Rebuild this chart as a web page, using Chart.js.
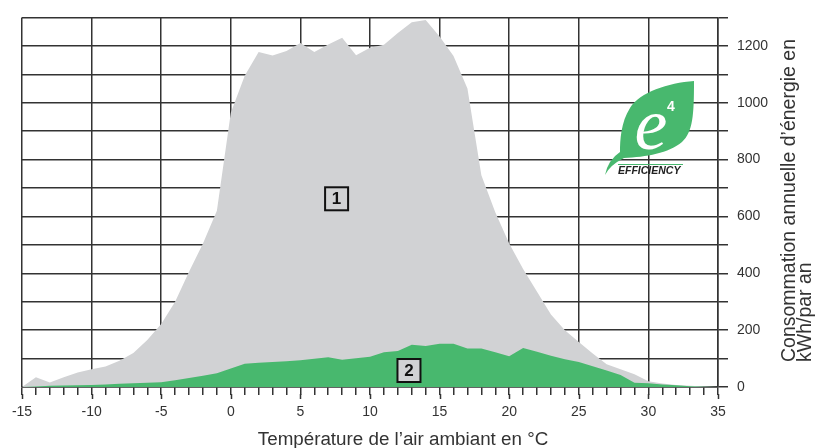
<!DOCTYPE html>
<html><head><meta charset="utf-8">
<script src="https://cdn.jsdelivr.net/npm/chart.js@4"></script>
<style>html,body{margin:0;padding:0;background:#fff}#wrap{width:816px;height:448px}</style>
</head><body><div id="wrap"><canvas id="c" width="816" height="448"></canvas></div>
<script>
const temperatures = [-15,-14,-13,-12,-11,-10,-9,-8,-7,-6,-5,-4,-3,-2,-1,0,1,2,3,4,5,6,7,8,9,10,11,12,13,14,15,16,17,18,19,20,21,22,23,24,25,26,27,28,29,30,31,32,33,34,35];
const consumption1 = [0,34,16,34,51,62,72,92,120,165,222,300,405,505,620,965,1095,1178,1166,1182,1210,1178,1205,1228,1167,1193,1204,1245,1283,1291,1233,1164,1050,745,615,505,415,335,255,200,158,118,80,62,45,20,12,7,4,2,0];
const consumption2 = [0,2,4,5,6,7,9,11,13,15,17,24,32,40,48,65,82,85,88,91,94,99,105,96,101,106,122,127,149,144,152,152,135,135,122,108,137,124,110,98,88,73,58,42,15,13,9,6,3,1,0];
const seriesLabels = ['1','2'];
const labelAnchors = [[7.6, 662], [12.8, 58]]; // data coords of the numbered boxes
const xTitle = 'Température de l\u2019air ambiant en °C';
const yTitleLines = ['Consommation annuelle d\u2019énergie en', 'kWh/par an'];
const logoWord = 'EFFICIENCY';

const FONT = '"Liberation Sans", Arial, Helvetica, sans-serif';
const GRID = '#333';
const GRAY = '#d1d2d4';
const GREEN = '#48b86e';

const overlay = {
  id: 'overlay',
  afterDraw(chart) {
    const {ctx, scales: {x, y}} = chart;
    ctx.save();
    // longer major ticks
    ctx.strokeStyle = GRID; ctx.lineWidth = 1.5;
    const yb = y.getPixelForValue(0);
    temperatures.filter(t => t % 5 === 0).forEach(t => {
      const px = Math.round(x.getPixelForValue(t)) + 0.5;
      ctx.beginPath(); ctx.moveTo(px, yb + 7); ctx.lineTo(px, yb + 12); ctx.stroke();
    });
    // numbered boxes
    labelAnchors.forEach((a, i) => {
      const cx = x.getPixelForValue(a[0]), cy = y.getPixelForValue(a[1]);
      ctx.fillStyle = GRAY; ctx.fillRect(cx - 11.5, cy - 11.5, 23, 23);
      ctx.strokeStyle = '#111'; ctx.lineWidth = 2; ctx.strokeRect(cx - 11.5, cy - 11.5, 23, 23);
      ctx.fillStyle = '#111'; ctx.font = 'bold 17px ' + FONT;
      ctx.textAlign = 'center'; ctx.textBaseline = 'middle';
      ctx.fillText(seriesLabels[i], cx, cy + 1);
    });
    // x title
    ctx.fillStyle = '#333'; ctx.font = '18.8px ' + FONT;
    ctx.textAlign = 'center'; ctx.textBaseline = 'alphabetic';
    ctx.fillText(xTitle, 403, 445);
    // y title (rotated)
    ctx.save();
    ctx.rotate(-Math.PI / 2);
    ctx.textAlign = 'left';
    ctx.font = '19.5px ' + FONT;
    ctx.fillText(yTitleLines[0], -362, 795);
    ctx.fillText(yTitleLines[1], -362, 811);
    ctx.restore();
    // logo leaf
    ctx.fillStyle = GREEN;
    ctx.beginPath();
    ctx.moveTo(694, 81);
    ctx.bezierCurveTo(668, 83, 640, 92, 630, 108);
    ctx.bezierCurveTo(621, 122, 620, 140, 620, 152);
    ctx.quadraticCurveTo(608, 160, 605, 175);
    ctx.quadraticCurveTo(610, 165, 624, 158);
    ctx.bezierCurveTo(646, 157, 669, 153, 682, 142);
    ctx.bezierCurveTo(693, 132, 694, 115, 694, 81);
    ctx.closePath(); ctx.fill();
    ctx.fillStyle = '#fff';
    ctx.font = 'italic 74px "Liberation Serif", serif';
    ctx.textAlign = 'center'; ctx.textBaseline = 'alphabetic';
    ctx.fillText('e', 651, 149);
    ctx.font = 'bold 14px ' + FONT;
    ctx.fillText('4', 671, 111);
    ctx.strokeStyle = GREEN; ctx.lineWidth = 1;
    ctx.beginPath(); ctx.moveTo(618, 164.5); ctx.lineTo(683, 164.5); ctx.stroke();
    ctx.fillStyle = '#222'; ctx.font = 'italic bold 10.5px ' + FONT;
    ctx.textAlign = 'left';
    ctx.fillText(logoWord, 618, 174, 64);
    ctx.restore();
  }
};

new Chart(document.getElementById('c'), {
  type: 'line',
  data: {
    datasets: [
      { label: seriesLabels[1], data: temperatures.map((t, i) => ({x: t, y: consumption2[i]})),
        backgroundColor: GREEN, borderWidth: 0, fill: 'origin', pointRadius: 0, tension: 0, order: 0 },
      { label: seriesLabels[0], data: temperatures.map((t, i) => ({x: t, y: consumption1[i]})),
        backgroundColor: GRAY, borderWidth: 0, fill: 'origin', pointRadius: 0, tension: 0, order: 1 }
    ]
  },
  options: {
    responsive: false, animation: false, devicePixelRatio: 1,
    layout: { padding: { left: 22, top: 14, right: 0, bottom: 0 } },
    plugins: { legend: { display: false }, tooltip: { enabled: false } },
    scales: {
      x: {
        type: 'linear', min: -15, max: 35, z: 1,
        ticks: { stepSize: 1, autoSkip: false, maxRotation: 0, padding: 9, color: '#333',
          font: { size: 14, family: FONT },
          callback: v => (v % 5 === 0 ? String(v) : '') },
        grid: { color: c => (c.tick && c.tick.value % 5 === 0 ? GRID : 'rgba(0,0,0,0)'),
          tickColor: GRID, tickLength: 8, lineWidth: 1.5 },
        border: { display: true, color: GRID, width: 1.5 },
        afterFit: s => { s.height = 61; }
      },
      y: {
        type: 'linear', position: 'right', min: 0, max: 1300, z: 1,
        ticks: { stepSize: 100, padding: 9, color: '#333', font: { size: 14, family: FONT },
          callback: v => (v % 200 === 0 ? String(v) : '') },
        grid: { color: GRID, tickColor: GRID, tickLength: 10, lineWidth: 1.5 },
        border: { display: true, color: GRID, width: 1.5 },
        afterFit: s => { s.width = 98; }
      }
    }
  },
  plugins: [overlay]
});
</script></body></html>
